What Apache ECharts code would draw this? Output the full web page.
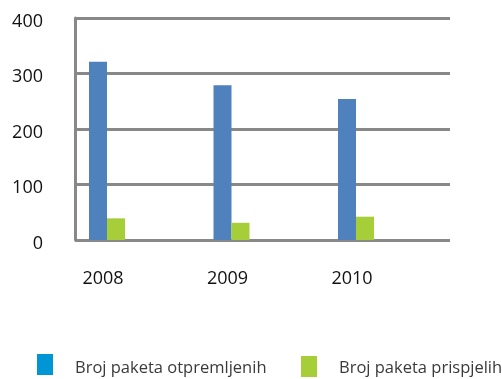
<!DOCTYPE html>
<html>
<head>
<meta charset="utf-8">
<script src="https://cdn.jsdelivr.net/npm/echarts@6/dist/echarts.min.js"></script>
<style>
  html, body { margin: 0; padding: 0; background: #fff; }
  #chart { width: 502px; height: 379px; }
</style>
</head>
<body>
<div id="chart"></div>
<script>
// Parcel counts per year
const years = ['2008', '2009', '2010'];
const sentParcels = [321, 279, 254];
const receivedParcels = [39, 31, 42];
const yTicks = [0, 100, 200, 300, 400];

const seriesNames = ['Broj paketa otpremljenih', 'Broj paketa prispjelih'];
const barColors = ['#4f81bd', '#a6ce39'];
const legendColors = ['#0096d6', '#a6ce39'];

const font = '"Open Sans", "Noto Sans", sans-serif';
const gridColor = '#888888';

const chart = echarts.init(document.getElementById('chart'), null, { renderer: 'canvas' });

function legendText(padTop) {
  return {
    rich: { t: { color: '#3a3a3a', fontFamily: font, fontSize: 16.5, padding: [padTop, 0, 0, 17] } }
  };
}

chart.setOption({
  animation: false,
  backgroundColor: '#ffffff',
  grid: [
    // framed plot area with the value scale
    { left: 75, right: 52, top: 18, bottom: 139 },
    // band for the year groups
    { left: 44.75, right: 83.75, top: 18, bottom: 139 }
  ],
  xAxis: [
    { gridIndex: 0, type: 'category', data: years, show: false },
    {
      gridIndex: 1, type: 'category', data: years,
      axisLine: { show: false }, axisTick: { show: false }, splitLine: { show: false },
      axisLabel: {
        margin: 30,
        formatter: v => '{t|' + v + '}',
        rich: { t: { color: '#111', fontFamily: font, fontSize: 18, padding: [0, 8, 0, 0] } }
      }
    }
  ],
  yAxis: [
    {
      gridIndex: 0, type: 'value', min: yTicks[0], max: yTicks[yTicks.length - 1], interval: 100,
      axisLine: { show: true, lineStyle: { color: gridColor, width: 3 } },
      axisTick: { show: false },
      splitLine: { show: true, lineStyle: { color: gridColor, width: 3 } },
      axisLabel: {
        margin: 32,
        formatter: v => '{t|' + v + '}',
        rich: { t: { color: '#111', fontFamily: font, fontSize: 18, padding: [7, 0, 0, 0] } }
      }
    },
    {
      gridIndex: 1, type: 'value', min: yTicks[0], max: yTicks[yTicks.length - 1], show: false
    }
  ],
  legend: [
    {
      left: 37, top: 354, padding: 0, icon: 'rect', itemWidth: 16, itemHeight: 21,
      data: [{ name: seriesNames[0], itemStyle: { color: legendColors[0] } }],
      formatter: name => '{t|' + name + '}',
      textStyle: legendText(7),
      selectedMode: false
    },
    {
      left: 301, top: 356, padding: 0, icon: 'rect', itemWidth: 16, itemHeight: 21,
      data: [{ name: seriesNames[1], itemStyle: { color: legendColors[1] } }],
      formatter: name => '{t|' + name + '}',
      textStyle: legendText(3),
      selectedMode: false
    }
  ],
  series: [
    {
      name: seriesNames[0], type: 'bar', xAxisIndex: 1, yAxisIndex: 1,
      data: sentParcels, barWidth: 18, barGap: '0%',
      itemStyle: { color: barColors[0] }
    },
    {
      name: seriesNames[1], type: 'bar', xAxisIndex: 1, yAxisIndex: 1,
      data: receivedParcels, barWidth: 18, barGap: '0%',
      itemStyle: { color: barColors[1] }
    }
  ]
});
</script>
</body>
</html>
